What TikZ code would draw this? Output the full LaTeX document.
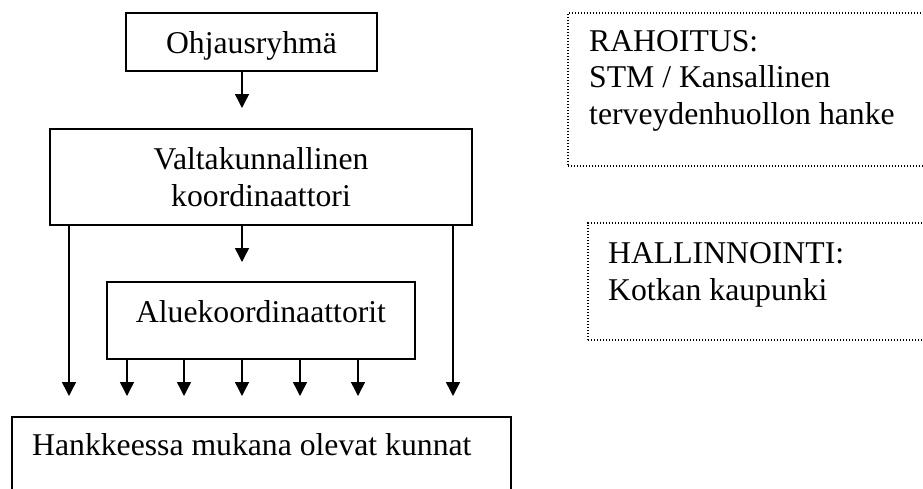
\documentclass[tikz,border=0pt]{standalone}
\usepackage{fontspec}
\setmainfont{Liberation Serif}
\usetikzlibrary{arrows.meta}

\begin{document}
\begin{tikzpicture}[x=1pt, y=-1pt, line join=miter,
    every node/.style={font=\fontsize{31.7pt}{36.5pt}\selectfont},
    solidbox/.style={draw, line width=1.8pt, inner sep=0pt, align=center},
    dotbox/.style={draw, line width=1.3pt, dash pattern=on 1.3pt off 1.7pt, inner sep=0pt},
    plaintext/.style={inner sep=0pt, align=left},
    arrowline/.style={line width=1.5pt, -{Triangle[width=14pt, length=14pt]}}]
                \useasboundingbox (0,0) rectangle (923,488);
                \clip (0,0) rectangle (923,488);
                % boxes on the left
                \node[solidbox, text depth=0pt, minimum width=251pt, minimum height=58pt] (ohjaus) at (251.5,42) {Ohjausryhmä};
                \node[solidbox, minimum width=422pt, minimum height=96pt] (valta) at (261,177) {Valtakunnallinen\\koordinaattori};
                \node[solidbox, minimum width=308pt, minimum height=77pt] (alue) at (261,320.5) {};
                \node[plaintext, anchor=base] (aluetxt) at (261,322) {Aluekoordinaattorit};
                \node[solidbox, minimum width=499pt, minimum height=100pt] (kunnat) at (261.5,467) {};
                \node[plaintext, anchor=base west] (kunnattxt) at (32,455) {Hankkeessa mukana olevat kunnat};
                % boxes on the right (anchor at the last line)
                \node[dotbox, minimum width=367pt, minimum height=153pt] (rahoitus) at (751.5,89.5) {};
                \node[plaintext, anchor=base west] (rahoitustxt) at (589,124) {RAHOITUS:\\STM / Kansallinen\\terveydenhuollon hanke};
                \node[dotbox, minimum width=347pt, minimum height=117pt] (hallinto) at (761.5,281.5) {};
                \node[plaintext, anchor=base west] (hallintotxt) at (608,300) {HALLINNOINTI:\\Kotkan kaupunki};
                % arrow tips
                \coordinate (top) at (242,108);
                \coordinate (centre) at (242,262);
                \foreach \point/\xx in {l/69, a/127, b/184, c/242, d/300, e/358, r/453}
                    \coordinate (\point) at (\xx,396);
                \draw[arrowline] (ohjaus.south -| top) -- (top);
                \draw[arrowline] (valta.south -| centre) -- (centre);
                \draw[arrowline] (valta.south -| l) -- (l);
                \draw[arrowline] (valta.south -| r) -- (r);
                \foreach \point in {a, b, c, d, e}
                    \draw[arrowline] (alue.south -| \point) -- (\point);
            \end{tikzpicture}
\end{document}
